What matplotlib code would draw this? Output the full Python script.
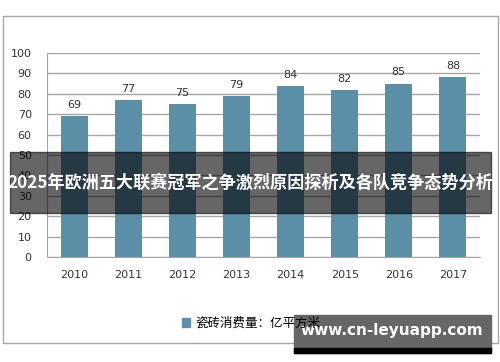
import matplotlib.pyplot as plt
from matplotlib.patches import Rectangle

plt.rcParams['font.family'] = ['DejaVu Sans', 'Noto Sans CJK SC']

years = ['2010', '2011', '2012', '2013', '2014', '2015', '2016', '2017']
consumption = [69, 77, 75, 79, 84, 82, 85, 88]
yticks = [0, 10, 20, 30, 40, 50, 60, 70, 80, 90, 100]

title = '2025年欧洲五大联赛冠军之争激烈原因探析及各队竞争态势分析'
legend_label = '瓷砖消费量：亿平方米'
watermark = 'www.cn-leyuapp.com'

bar_color = '#5b8fa8'
W, H = 500, 362

fig = plt.figure(figsize=(5, 3.62), dpi=100)


def box(x0, y0, x1, y1):
    # pixel coords (top-left origin) -> figure fraction rect
    return [x0 / W, 1 - y1 / H, (x1 - x0) / W, (y1 - y0) / H]


# outer chart border
fig.patches.append(Rectangle((3 / W, 1 - 343 / H), 495 / W, 327 / H,
                             transform=fig.transFigure, fill=False,
                             edgecolor='#a6a6a6', linewidth=1))

ax = fig.add_axes(box(47, 53, 480, 257))
x = range(len(years))
ax.bar(x, consumption, width=0.5, color=bar_color, zorder=2)
for i, v in enumerate(consumption):
    ax.text(i, v + 3, str(v), ha='center', va='bottom', fontsize=8, color='#333333')

ax.set_xlim(-0.5, len(years) - 0.5)
ax.set_ylim(0, 100)
ax.set_yticks(yticks)
ax.set_xticks(list(x))
ax.set_xticklabels(years)
ax.tick_params(axis='both', length=0, labelsize=8, colors='#333333')
ax.tick_params(axis='x', pad=9)
ax.tick_params(axis='y', pad=11)
ax.grid(axis='y', color='#a6a6a6', linewidth=1, zorder=0)
for s in ['top', 'right']:
    ax.spines[s].set_visible(False)
ax.spines['left'].set_color('#a6a6a6')
ax.spines['bottom'].set_color('#a6a6a6')

# title banner overlay
fig.patches.append(Rectangle((10 / W, 1 - 213 / H), 481 / W, 61 / H,
                             transform=fig.transFigure, color='black',
                             alpha=0.6, zorder=10))
fig.text(250 / W, 1 - 183 / H, title, ha='center', va='center', color='white',
         fontsize=12.3, fontweight='bold', family=['Noto Sans CJK SC', 'DejaVu Sans'],
         zorder=11)

# watermark box
fig.patches.append(Rectangle((294 / W, 1 - 353 / H), 197 / W, 38 / H,
                             transform=fig.transFigure, color='#666666', zorder=10))
fig.patches.append(Rectangle((294 / W, 1 - 353 / H), 197 / W, 5 / H,
                             transform=fig.transFigure, color='black', zorder=10))
fig.text(392 / W, 1 - 331 / H, watermark, ha='center', va='center', color='white',
         fontsize=11, fontweight='bold', zorder=11)

# legend (drawn above the watermark box, as in the reference)
leg = fig.legend([Rectangle((0, 0), 1, 1, color=bar_color)], [legend_label],
                 loc='center', bbox_to_anchor=(251 / W, 1 - 323 / H), frameon=False,
                 handlelength=0.7, handleheight=0.7, handletextpad=0.4,
                 prop={'family': ['Noto Sans CJK SC'], 'size': 9})
leg.set_zorder(12)

fig.savefig('out.png', dpi=100)
